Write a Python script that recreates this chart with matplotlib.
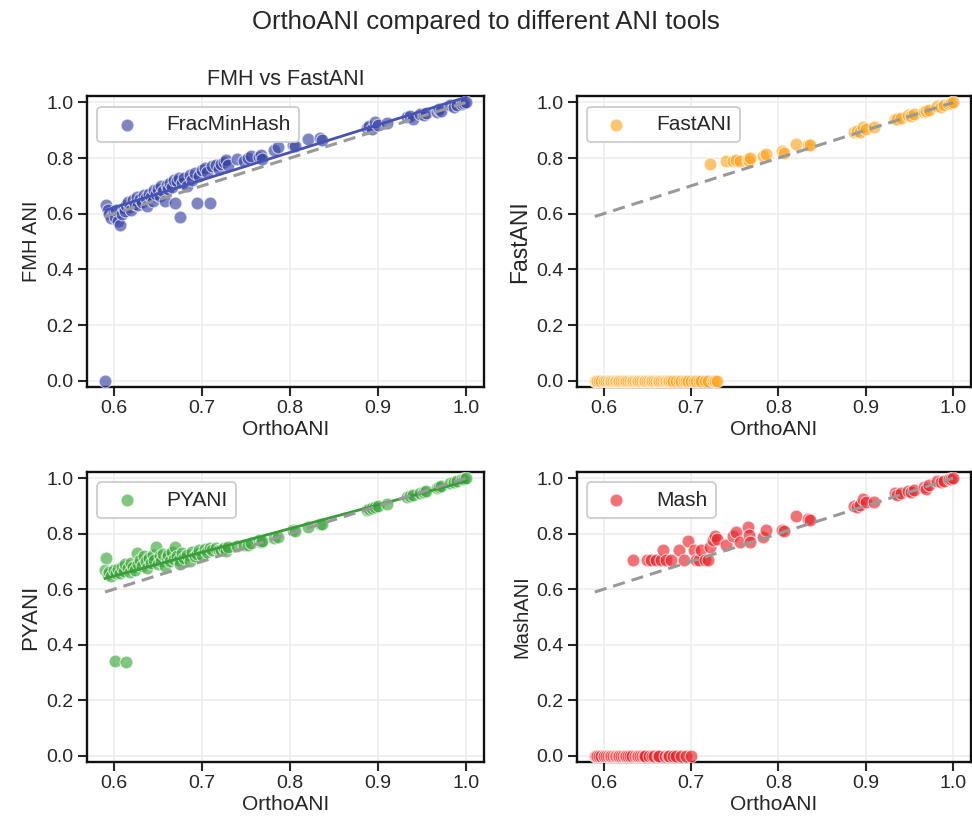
#!/usr/bin/env python3
"""
OrthoANI vs other ANI tools, 2x2 scatter grid.
"""

import numpy as np
import matplotlib
matplotlib.use("Agg")
import matplotlib.pyplot as plt

plt.rcParams['font.family'] = ['Liberation Sans', 'DejaVu Sans']

# genome pairs: OrthoANI reference value
ortho_ani = [
    0.590, 0.591, 0.593, 0.595, 0.597, 0.600, 0.601, 0.603, 0.605, 0.607,
    0.609, 0.611, 0.613, 0.614, 0.616, 0.618, 0.620, 0.622, 0.624, 0.626,
    0.628, 0.630, 0.632, 0.634, 0.636, 0.638, 0.640, 0.642, 0.644, 0.646,
    0.648, 0.650, 0.652, 0.654, 0.656, 0.658, 0.660, 0.662, 0.664, 0.666,
    0.668, 0.670, 0.672, 0.674, 0.675, 0.677, 0.680, 0.683, 0.686, 0.689,
    0.692, 0.694, 0.697, 0.700, 0.703, 0.706, 0.709, 0.712, 0.716, 0.720,
    0.722, 0.725, 0.727, 0.730, 0.740, 0.748, 0.752, 0.756, 0.765, 0.767,
    0.768, 0.782, 0.786, 0.804, 0.806, 0.820, 0.834, 0.836,
    0.887, 0.890, 0.893, 0.897, 0.900, 0.910, 0.933, 0.936, 0.940, 0.948,
    0.952, 0.955, 0.967, 0.969, 0.972, 0.982, 0.986, 0.990, 0.995, 0.998, 1.000,
]

fmh_ani = [
    0.000, 0.630, 0.612, 0.598, 0.585, 0.605, 0.590, 0.615, 0.575, 0.560,
    0.600, 0.620, 0.608, 0.632, 0.641, 0.625, 0.612, 0.648, 0.636, 0.660,
    0.630, 0.652, 0.642, 0.668, 0.655, 0.628, 0.672, 0.660, 0.645, 0.685,
    0.670, 0.690, 0.662, 0.698, 0.680, 0.645, 0.705, 0.688, 0.712, 0.695,
    0.722, 0.640, 0.716, 0.730, 0.590, 0.712, 0.728, 0.700, 0.738, 0.720,
    0.745, 0.640, 0.735, 0.758, 0.766, 0.750, 0.640, 0.772, 0.775, 0.760,
    0.780, 0.785, 0.792, 0.775, 0.796, 0.790, 0.800, 0.806, 0.803, 0.812,
    0.795, 0.828, 0.840, 0.846, 0.842, 0.867, 0.871, 0.866,
    0.907, 0.915, 0.905, 0.928, 0.918, 0.925, 0.946, 0.952, 0.940, 0.960,
    0.955, 0.962, 0.964, 0.975, 0.968, 0.989, 0.985, 0.990, 0.996, 0.998, 1.000,
]

fast_ani = [
    0.0, 0.0, 0.0, 0.0, 0.0, 0.0, 0.0, 0.0, 0.0, 0.0,
    0.0, 0.0, 0.0, 0.0, 0.0, 0.0, 0.0, 0.0, 0.0, 0.0,
    0.0, 0.0, 0.0, 0.0, 0.0, 0.0, 0.0, 0.0, 0.0, 0.0,
    0.0, 0.0, 0.0, 0.0, 0.0, 0.0, 0.0, 0.0, 0.0, 0.0,
    0.0, 0.0, 0.0, 0.0, 0.0, 0.0, 0.0, 0.0, 0.0, 0.0,
    0.0, 0.0, 0.0, 0.0, 0.0, 0.0, 0.0, 0.0, 0.0, 0.0,
    0.778, 0.0, 0.0, 0.0, 0.790, 0.788, 0.794, 0.790, 0.796, 0.790,
    0.800, 0.808, 0.814, 0.826, 0.820, 0.849, 0.846, 0.848,
    0.892, 0.898, 0.895, 0.910, 0.905, 0.910, 0.942, 0.940, 0.945, 0.953,
    0.950, 0.958, 0.967, 0.970, 0.972, 0.986, 0.985, 0.990, 0.995, 0.997, 1.000,
]

pyani = [
    0.669, 0.714, 0.655, 0.662, 0.648, 0.670, 0.341, 0.660, 0.672, 0.658,
    0.680, 0.665, 0.690, 0.338, 0.675, 0.662, 0.695, 0.680, 0.668, 0.729,
    0.690, 0.705, 0.685, 0.720, 0.700, 0.678, 0.712, 0.695, 0.725, 0.705,
    0.751, 0.690, 0.718, 0.700, 0.728, 0.685, 0.712, 0.722, 0.700, 0.735,
    0.710, 0.751, 0.720, 0.705, 0.690, 0.730, 0.712, 0.725, 0.700, 0.735,
    0.718, 0.728, 0.740, 0.725, 0.745, 0.735, 0.748, 0.740, 0.750, 0.742,
    0.742, 0.748, 0.738, 0.752, 0.755, 0.760, 0.758, 0.765, 0.776, 0.770,
    0.772, 0.785, 0.788, 0.812, 0.808, 0.823, 0.836, 0.834,
    0.886, 0.890, 0.893, 0.895, 0.900, 0.907, 0.932, 0.935, 0.938, 0.948,
    0.950, 0.955, 0.966, 0.968, 0.972, 0.984, 0.985, 0.988, 0.995, 0.998, 1.000,
]

mash_ani = [
    0.0, 0.0, 0.0, 0.0, 0.0, 0.0, 0.0, 0.0, 0.0, 0.0,
    0.0, 0.0, 0.0, 0.0, 0.0, 0.0, 0.0, 0.0, 0.0, 0.0,
    0.0, 0.0, 0.0, 0.705, 0.0, 0.0, 0.0, 0.0, 0.0, 0.0,
    0.0, 0.705, 0.0, 0.705, 0.0, 0.0, 0.705, 0.0, 0.0, 0.705,
    0.740, 0.0, 0.705, 0.0, 0.0, 0.705, 0.0, 0.0, 0.740, 0.0,
    0.705, 0.0, 0.772, 0.0, 0.740, 0.705, 0.705, 0.740, 0.705, 0.705,
    0.752, 0.776, 0.790, 0.780, 0.758, 0.790, 0.806, 0.770, 0.823, 0.794,
    0.770, 0.788, 0.815, 0.812, 0.808, 0.862, 0.854, 0.850,
    0.901, 0.895, 0.905, 0.925, 0.915, 0.915, 0.948, 0.940, 0.945, 0.955,
    0.950, 0.958, 0.969, 0.960, 0.975, 0.988, 0.986, 0.990, 0.995, 0.998, 1.000,
]

# (values, legend label, ylabel, ylabel size, point colour, line colour, fit?)
panels = [
    (fmh_ani, "FracMinHash", "FMH ANI", 14.5, '#3844a6', '#4753b2', True),
    (fast_ani, "FastANI", "FastANI", 16.5, '#ffa620', None, False),
    (pyani, "PYANI", "PYANI", 16, '#3aa83a', '#3a9d3a', True),
    (mash_ani, "Mash", "MashANI", 14.5, '#e8262c', None, False),
]

TXT = '#262626'

fig = plt.figure(figsize=(9.72, 8.23), dpi=100)
boxes = [
    [0.0895, 0.530, 0.4085, 0.353],
    [0.5935, 0.530, 0.4055, 0.353],
    [0.0895, 0.074, 0.4085, 0.3525],
    [0.5935, 0.074, 0.4055, 0.3525],
]

x = np.array(ortho_ani)
for box, (vals, label, ylabel, ysize, color, lcolor, fit) in zip(boxes, panels):
    ax = fig.add_axes(box)
    y = np.array(vals)
    ax.grid(True, color='#ededed', lw=1.2, zorder=0)
    ax.scatter(x, y, s=85, color=color, alpha=0.65, edgecolors='white',
               linewidths=0.8, label=label, zorder=3)

    if fit:
        mask = y > 0
        m, b = np.polyfit(x[mask], y[mask], 1)
        xs = np.array([x[mask].min(), x[mask].max()])
        ax.plot(xs, m * xs + b, color=lcolor, lw=2, zorder=4)

    ax.plot([x.min(), x.max()], [x.min(), x.max()], color='#999999', lw=2.2,
            ls=(0, (4, 2.3)), zorder=5)

    ax.set_xlim(0.5695, 1.0205)
    ax.set_ylim(-0.022, 1.022)
    ax.set_xticks([0.6, 0.7, 0.8, 0.9, 1.0])
    ax.set_yticks([0.0, 0.2, 0.4, 0.6, 0.8, 1.0])
    ax.tick_params(labelsize=14, length=6.5, width=1.5, colors=TXT, pad=3)
    for sp in ax.spines.values():
        sp.set_linewidth(1.7)
        sp.set_color('#111111')
    ax.set_xlabel("OrthoANI", fontsize=15, color=TXT, labelpad=2)
    ax.set_ylabel(ylabel, fontsize=ysize, color=TXT, labelpad=4)

    leg = ax.legend(loc='upper left', fontsize=15, handletextpad=0.9,
                    borderpad=0.4, borderaxespad=0.5, markerscale=1.0,
                    framealpha=1.0, edgecolor='#cccccc', fancybox=True)
    leg.get_frame().set_linewidth(1.3)
    for t in leg.get_texts():
        t.set_color(TXT)

    if label == "FracMinHash":
        ax.set_title("FMH vs FastANI", fontsize=15.5, color=TXT, pad=8)

fig.suptitle("OrthoANI compared to different ANI tools", fontsize=18.5,
             color=TXT, y=0.988)

plt.savefig("out.png", dpi=100)
plt.close()
